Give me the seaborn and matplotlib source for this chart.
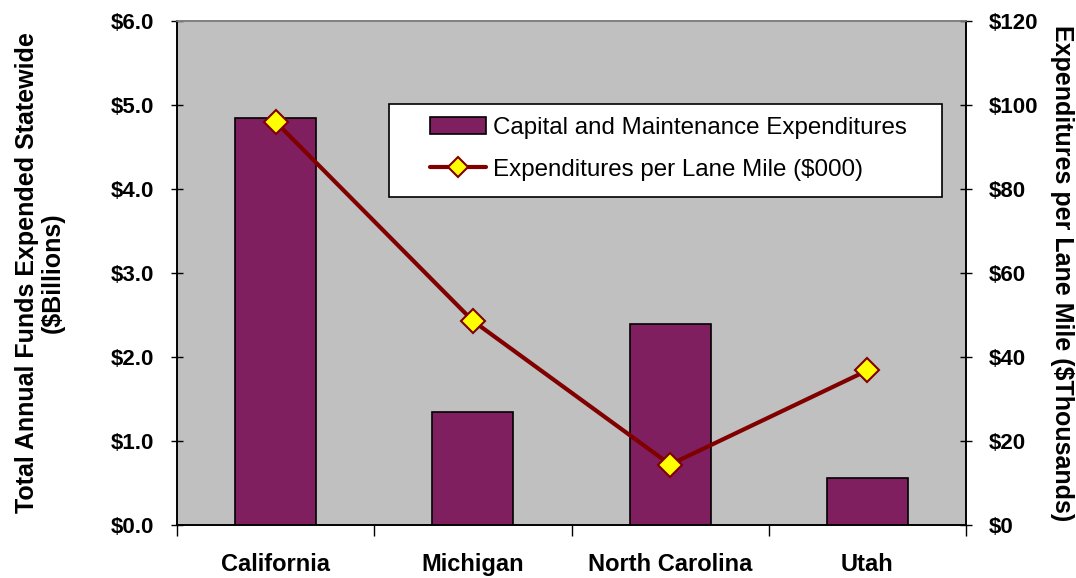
import matplotlib
matplotlib.use("Agg")
import matplotlib.pyplot as plt
import seaborn as sns
import pandas as pd
from matplotlib.lines import Line2D
from matplotlib.patches import Patch, Rectangle
from matplotlib.ticker import FuncFormatter, MultipleLocator, FixedLocator

states = ["California", "Michigan", "North Carolina", "Utah"]
capital_maint_billions = [4.84, 1.34, 2.39, 0.56]
per_lane_mile_thousands = [96.0, 48.6, 14.4, 36.8]

sns.set_theme(style="white")
plt.rcParams["font.family"] = ["Liberation Sans", "DejaVu Sans"]
plt.rcParams["text.color"] = "black"
plt.rcParams["axes.labelcolor"] = "black"
plt.rcParams["xtick.color"] = "black"
plt.rcParams["ytick.color"] = "black"

bar_color = "#7F1F5F"
line_color = "#800000"

df = pd.DataFrame({"state": states, "capital": capital_maint_billions,
                   "per_mile": per_lane_mile_thousands})

W, H = 1076, 578
fig = plt.figure(figsize=(W / 100, H / 100), dpi=100)
ax = fig.add_axes([177 / W, 1 - 525 / H, (966 - 177) / W, (525 - 21) / H])
ax.set_facecolor("#C0C0C0")

sns.barplot(data=df, x="state", y="capital", ax=ax, color=bar_color,
            width=0.41, edgecolor="black", linewidth=1.2, saturation=1)
ax.set_xlim(-0.5, 3.5)
ax.set_ylim(0, 6)
ax.yaxis.set_major_locator(MultipleLocator(1.0))
ax.yaxis.set_major_formatter(FuncFormatter(lambda v, p: f"${v:.1f}"))

ax2 = ax.twinx()
sns.lineplot(data=df, x="state", y="per_mile", ax=ax2, color=line_color,
             linewidth=3, marker="D", markersize=12, markerfacecolor="#FFFF00",
             markeredgecolor=line_color, markeredgewidth=1.5, sort=False)
ax2.set_ylim(0, 120)
ax2.yaxis.set_major_locator(MultipleLocator(20))
ax2.yaxis.set_major_formatter(FuncFormatter(lambda v, p: f"${v:.0f}"))
ax2.set_xlim(-0.5, 3.5)

# x ticks: labels at categories, tick marks between categories
ax.tick_params(axis="x", which="major", length=0, pad=20, labelsize=17)
ax.xaxis.set_minor_locator(FixedLocator([-0.5, 0.5, 1.5, 2.5, 3.5]))
ax.tick_params(axis="x", which="minor", length=8, width=1, color="black",
               direction="out", bottom=True)
for lab in ax.get_xticklabels():
    lab.set_fontweight("bold")

ax.tick_params(axis="y", which="major", length=9, width=1, direction="inout",
               left=True, labelsize=16, pad=12, color="black")
for lab in ax.get_yticklabels():
    lab.set_fontweight("bold")
ax2.tick_params(axis="y", which="major", length=9, width=1, direction="inout",
                right=True, labelsize=16, pad=12, color="black")
for lab in ax2.get_yticklabels():
    lab.set_fontweight("bold")

ax.set_xlabel("")
ax.set_ylabel("Total Annual Funds Expended Statewide\n($Billions)",
              fontsize=18, fontweight="bold", linespacing=1.1, va="center")
ax.yaxis.set_label_coords((40 - 177) / 789, 0.5)
ax2.set_ylabel("Expenditures per Lane Mile ($Thousands)", fontsize=18,
               fontweight="bold", rotation=270, va="center")
ax2.yaxis.set_label_coords((1062 - 177) / 789, 0.5)

for a in (ax, ax2):
    for s in a.spines.values():
        s.set_linewidth(1.2)
    a.spines["top"].set_color("#808080")
    a.spines["left"].set_color("black")
    a.spines["right"].set_color("black")
    a.spines["bottom"].set_color("black")

# legend frame and entries
frame = Rectangle((389 / W, 1 - 197 / H), (942 - 389) / W, (197 - 104) / H,
                  transform=fig.transFigure, facecolor="white", edgecolor="black",
                  linewidth=1.2, zorder=4)
ax2.add_patch(frame)
handles = [
    Patch(facecolor=bar_color, edgecolor="black", linewidth=1.2),
    Line2D([0], [0], color=line_color, linewidth=3, marker="D", markersize=10,
           markerfacecolor="#FFFF00", markeredgecolor=line_color, markeredgewidth=1.5),
]
leg = ax2.legend(handles, ["Capital and Maintenance Expenditures",
                           "Expenditures per Lane Mile ($000)"],
                 loc="center left", bbox_to_anchor=(430 / W, 1 - 149 / H),
                 bbox_transform=fig.transFigure,
                 fontsize=17.4, frameon=False, borderpad=0, labelspacing=0.8,
                 handlelength=2.3, handletextpad=0.3, borderaxespad=0)
leg.set_zorder(5)

fig.savefig("out.png", dpi=100)
